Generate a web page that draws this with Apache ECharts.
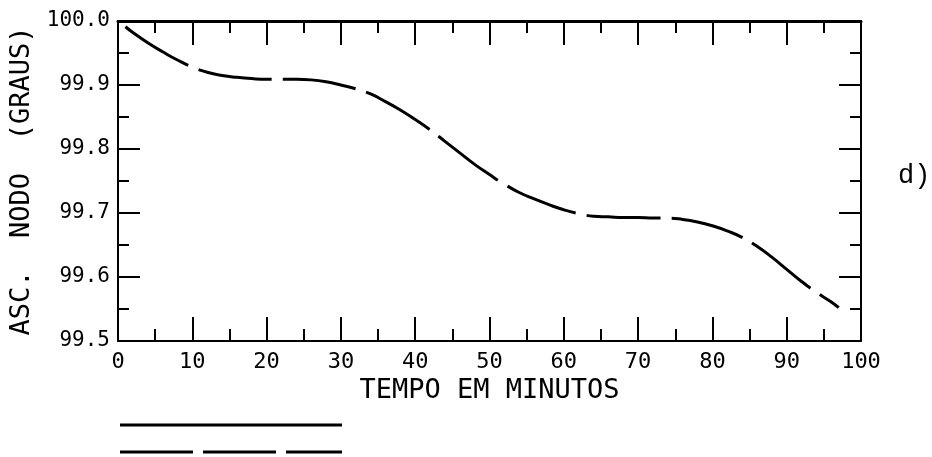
<!DOCTYPE html>
<html>
<head>
<meta charset="utf-8">
<script src="https://cdn.jsdelivr.net/npm/echarts@6/dist/echarts.min.js"></script>
<style>
html,body{margin:0;padding:0;background:#fff;}
#chart{width:932px;height:457px;}
</style>
</head>
<body>
<div id="chart"></div>
<script>
// Time in minutes
const tempo = [1,2,4,6,8,10,12,14,16,18,20,22,24,26,28,30,32,34,36,38,40,42,44,46,48,50,52,54,56,58,60,62,64,66,68,70,72,74,76,78,80,82,84,86,88,90,92,94,96,97];
// Ascending node (degrees)
const ascNodo = [99.991,99.982,99.966,99.952,99.939,99.928,99.920,99.915,99.912,99.910,99.909,99.909,99.909,99.908,99.905,99.900,99.894,99.886,99.874,99.861,99.846,99.830,99.812,99.794,99.776,99.760,99.745,99.732,99.722,99.713,99.705,99.699,99.695,99.694,99.693,99.693,99.692,99.692,99.690,99.686,99.680,99.672,99.662,99.648,99.631,99.612,99.593,99.576,99.561,99.552];
const xTicks = [0,10,20,30,40,50,60,70,80,90,100];
const yTicks = [99.5,99.6,99.7,99.8,99.9,100.0];
const xTitle = 'TEMPO EM MINUTOS';
const yTitle = 'ASC.  NODO  (GRAUS)';
const panelLabel = 'd)';

const chart = echarts.init(document.getElementById('chart'), null, {renderer:'canvas'});
const mono = 'DejaVu Sans Mono';
const ink = '#000';

function xAx(pos, show) {
  return {
    type:'value', position:pos, min:0, max:100, interval:10,
    axisLine:{show:true, onZero:false, lineStyle:{color:ink, width: pos==='top'?3:2}},
    axisTick:{show:true, inside:true, length:24, lineStyle:{color:ink, width:2}},
    minorTick:{show:true, splitNumber:2, length:12, lineStyle:{color:ink, width:2}},
    splitLine:{show:false},
    axisLabel:{show:show, color:ink, fontFamily:mono, fontSize:22, margin:10,
      formatter:v => xTicks.indexOf(v) >= 0 ? String(v) : ''},
    name: show ? xTitle : '', nameLocation:'middle', nameGap:30,
    nameTextStyle:{color:ink, fontFamily:mono, fontSize:27}
  };
}
function yAx(pos, show) {
  return {
    type:'value', position:pos, min:99.5, max:100.0, interval:0.1,
    axisLine:{show:true, onZero:false, lineStyle:{color:ink, width:2}},
    axisTick:{show:true, inside:true, length:22, lineStyle:{color:ink, width:2}},
    minorTick:{show:true, splitNumber:2, length:11, lineStyle:{color:ink, width:2}},
    splitLine:{show:false},
    axisLabel:{show:show, color:ink, fontFamily:mono, fontSize:21, margin:8,
      formatter:v => v.toFixed(1)},
    name: show ? yTitle : '', nameLocation:'middle', nameGap:82, nameRotate:90,
    nameTextStyle:{color:ink, fontFamily:mono, fontSize:27}
  };
}

chart.setOption({
  backgroundColor:'#fff',
  animation:false,
  grid:{left:118, right:71, top:21, bottom:116, containLabel:false},
  xAxis:[xAx('bottom', true), xAx('top', false)],
  yAxis:[yAx('left', true), yAx('right', false)],
  series:[{
    type:'line', xAxisIndex:0, yAxisIndex:0,
    data: tempo.map((t,i)=>[t, ascNodo[i]]),
    showSymbol:false, symbol:'none', smooth:true,
    lineStyle:{color:ink, width:3, type:[74,11], dashOffset:0}
  }],
  graphic:[
    {type:'text', left:898, top:162, style:{text:panelLabel, font:'27px "Liberation Mono"', fill:ink}},
    {type:'line', shape:{x1:120, y1:425, x2:342, y2:425}, style:{stroke:ink, lineWidth:3}},
    {type:'line', shape:{x1:120, y1:452, x2:342, y2:452}, style:{stroke:ink, lineWidth:3, lineDash:[73,10]}}
  ]
});
</script>
</body>
</html>
